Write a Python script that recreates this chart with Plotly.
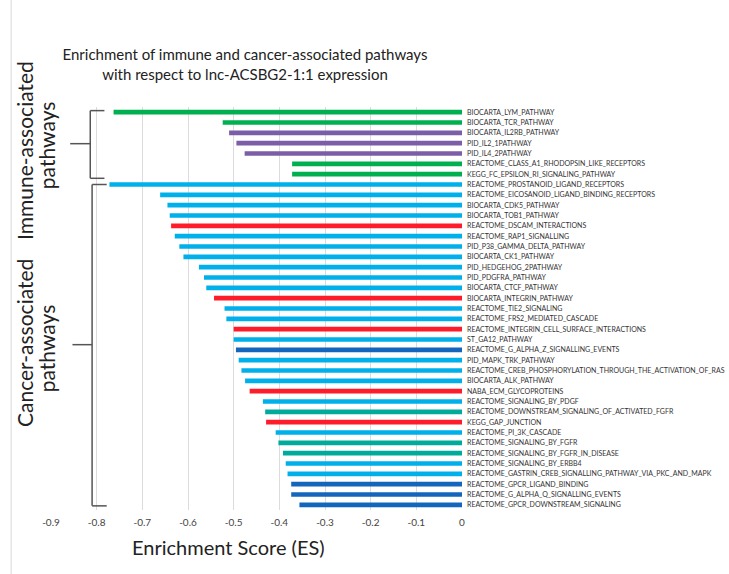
import plotly.graph_objects as go

pathways = [
    "BIOCARTA_LYM_PATHWAY", "BIOCARTA_TCR_PATHWAY", "BIOCARTA_IL2RB_PATHWAY",
    "PID_IL2_1PATHWAY", "PID_IL4_2PATHWAY", "REACTOME_CLASS_A1_RHODOPSIN_LIKE_RECEPTORS",
    "KEGG_FC_EPSILON_RI_SIGNALING_PATHWAY", "REACTOME_PROSTANOID_LIGAND_RECEPTORS",
    "REACTOME_EICOSANOID_LIGAND_BINDING_RECEPTORS", "BIOCARTA_CDK5_PATHWAY",
    "BIOCARTA_TOB1_PATHWAY", "REACTOME_DSCAM_INTERACTIONS", "REACTOME_RAP1_SIGNALLING",
    "PID_P38_GAMMA_DELTA_PATHWAY", "BIOCARTA_CK1_PATHWAY", "PID_HEDGEHOG_2PATHWAY",
    "PID_PDGFRA_PATHWAY", "BIOCARTA_CTCF_PATHWAY", "BIOCARTA_INTEGRIN_PATHWAY",
    "REACTOME_TIE2_SIGNALING", "REACTOME_FRS2_MEDIATED_CASCADE",
    "REACTOME_INTEGRIN_CELL_SURFACE_INTERACTIONS", "ST_GA12_PATHWAY",
    "REACTOME_G_ALPHA_Z_SIGNALLING_EVENTS", "PID_MAPK_TRK_PATHWAY",
    "REACTOME_CREB_PHOSPHORYLATION_THROUGH_THE_ACTIVATION_OF_RAS", "BIOCARTA_ALK_PATHWAY",
    "NABA_ECM_GLYCOPROTEINS", "REACTOME_SIGNALING_BY_PDGF",
    "REACTOME_DOWNSTREAM_SIGNALING_OF_ACTIVATED_FGFR", "KEGG_GAP_JUNCTION",
    "REACTOME_PI_3K_CASCADE", "REACTOME_SIGNALING_BY_FGFR",
    "REACTOME_SIGNALING_BY_FGFR_IN_DISEASE", "REACTOME_SIGNALING_BY_ERBB4",
    "REACTOME_GASTRIN_CREB_SIGNALLING_PATHWAY_VIA_PKC_AND_MAPK",
    "REACTOME_GPCR_LIGAND_BINDING", "REACTOME_G_ALPHA_Q_SIGNALLING_EVENTS",
    "REACTOME_GPCR_DOWNSTREAM_SIGNALING",
]

enrichment_score = [
    -0.763, -0.524, -0.510, -0.494, -0.476, -0.372, -0.372,
    -0.772, -0.661, -0.645, -0.640, -0.637, -0.629, -0.619, -0.610,
    -0.576, -0.565, -0.560, -0.543, -0.520, -0.516, -0.500, -0.500,
    -0.495, -0.489, -0.483, -0.475, -0.465, -0.436, -0.431, -0.429,
    -0.408, -0.402, -0.392, -0.386, -0.382, -0.374, -0.374, -0.356,
]

group = [
    "green", "green", "purple", "purple", "purple", "green", "green",
    "blue", "blue", "blue", "blue", "red", "blue", "blue", "blue",
    "blue", "blue", "blue", "red", "blue", "blue", "red", "blue",
    "navy", "blue", "blue", "blue", "red", "blue", "teal", "red",
    "blue", "teal", "teal", "blue", "blue", "navy", "navy", "navy",
]

tick_vals = [-0.9, -0.8, -0.7, -0.6, -0.5, -0.4, -0.3, -0.2, -0.1, 0]
tick_text = ["-0.9", "-0.8", "-0.7", "-0.6", "-0.5", "-0.4", "-0.3", "-0.2", "-0.1", "0"]

palette = {
    "green": "#00b050", "purple": "#7b5ea7", "blue": "#00b0ea",
    "red": "#ff1c2a", "teal": "#00ab9c", "navy": "#1366bb",
}

fig = go.Figure(go.Bar(
    x=enrichment_score, y=pathways, orientation="h",
    marker=dict(color=[palette[g] for g in group], line=dict(width=0)),
    width=0.45,
))

font = "Lato"
fig.update_layout(
    width=729, height=574,
    margin=dict(l=51, r=267, t=107, b=64, autoexpand=False),
    paper_bgcolor="white", plot_bgcolor="white",
    showlegend=False,
    font=dict(family=font, color="#333333"),
    title=dict(
        text="Enrichment of immune and cancer-associated pathways<br>with respect to lnc-ACSBG2-1:1 expression",
        x=245 / 729, xref="container", xanchor="center",
        y=1 - 60 / 574, yref="container", yanchor="middle",
        font=dict(family=font, size=15, color="#222222"),
    ),
    xaxis=dict(
        range=[-0.9, 0], tickvals=tick_vals, ticktext=tick_text, automargin=False,
        showgrid=True, gridcolor="#dcdcdc", gridwidth=1, zeroline=False,
        showline=False, ticks="", ticklabelstandoff=5,
        tickfont=dict(family=font, size=10, color="#444444"),
    ),
    yaxis=dict(
        autorange=False, range=[38.5, -0.5], side="right", automargin=False,
        showgrid=False, zeroline=False, showline=False, ticks="",
        tickfont=dict(size=7, color="#333333"), ticklabelstandoff=4,
    ),
)

lc = "#555555"
shapes = []
# immune bracket (rows 0..6)
shapes += [
    dict(type="line", xref="x", yref="y", x0=-0.814, x1=-0.814, y0=-0.15, y1=6.4),
    dict(type="line", xref="x", yref="y", x0=-0.814, x1=-0.783, y0=-0.15, y1=-0.15),
    dict(type="line", xref="x", yref="y", x0=-0.814, x1=-0.783, y0=6.4, y1=6.4),
    dict(type="line", xref="x", yref="y", x0=-0.858, x1=-0.814, y0=3.05, y1=3.05),
]
# cancer bracket (rows 7..38)
shapes += [
    dict(type="line", xref="x", yref="y", x0=-0.810, x1=-0.810, y0=7.0, y1=38.1),
    dict(type="line", xref="x", yref="y", x0=-0.810, x1=-0.778, y0=7.0, y1=7.0),
    dict(type="line", xref="x", yref="y", x0=-0.810, x1=-0.778, y0=38.1, y1=38.1),
    dict(type="line", xref="x", yref="y", x0=-0.853, x1=-0.810, y0=22.5, y1=22.5),
]
for s in shapes:
    s["line"] = dict(color=lc, width=1.5)
# left page border
shapes.append(dict(type="line", xref="paper", yref="paper", x0=-0.097, x1=-0.097,
                   y0=-0.16, y1=1.27, line=dict(color="#d8d8d8", width=1)))
fig.update_layout(shapes=shapes)

fig.add_annotation(text="Enrichment Score (ES)", xref="paper", yref="paper",
                   x=(228 - 51) / 411, y=(510 - 547) / 403, showarrow=False,
                   xanchor="center", yanchor="middle",
                   font=dict(family=font, size=20, color="#222222"))

ann_font = dict(family=font, size=21, color="#222222")
fig.add_annotation(text="Immune-associated", xref="paper", yref="paper",
                   x=-0.066, y=0.893, textangle=-90, showarrow=False,
                   xanchor="center", yanchor="middle", font=ann_font)
fig.add_annotation(text="pathways", xref="paper", yref="paper",
                   x=-0.009, y=0.906, textangle=-90, showarrow=False,
                   xanchor="center", yanchor="middle", font=ann_font)
fig.add_annotation(text="Cancer-associated", xref="paper", yref="paper",
                   x=-0.066, y=0.414, textangle=-90, showarrow=False,
                   xanchor="center", yanchor="middle", font=ann_font)
fig.add_annotation(text="pathways", xref="paper", yref="paper",
                   x=-0.009, y=0.402, textangle=-90, showarrow=False,
                   xanchor="center", yanchor="middle", font=ann_font)

fig.write_html("out.html", config={"displayModeBar": False},
               post_script="document.body.style.margin='0';")
